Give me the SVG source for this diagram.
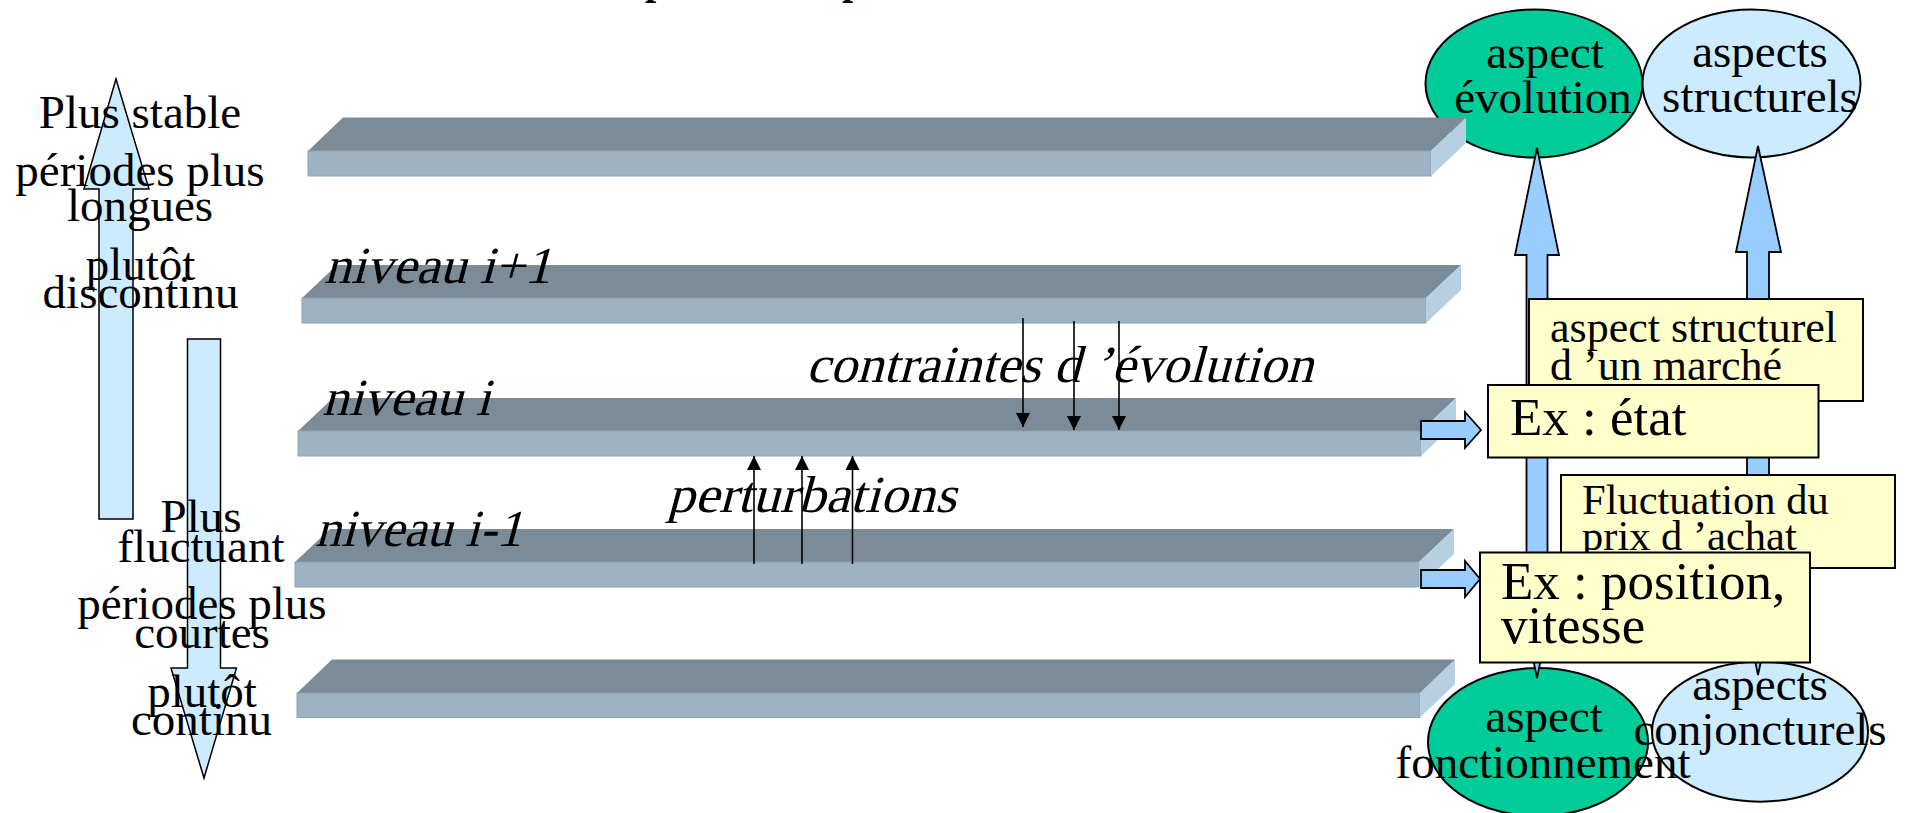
<svg xmlns="http://www.w3.org/2000/svg" width="1908" height="813" viewBox="0 0 1908 813">
<defs>
<style>
.top{fill:#7B8B97}
.front{fill:#9DB3C3;stroke:#8FA4B4;stroke-width:1}
.side{fill:#B6CFE1}
.lbl{font-family:"Liberation Serif",serif;font-size:47px;fill:#000}
.it{font-family:"Liberation Serif",serif;font-size:52px;fill:#000}
.mid{text-anchor:middle}
.barrow{fill:#CCEBFF;stroke:#000;stroke-width:1.5}
.rarrow{fill:#99CCFF;stroke:#000;stroke-width:1.8}
.box{fill:#FFFFCC;stroke:#000;stroke-width:2}
.thin{stroke:#000;stroke-width:1.6;fill:none}
</style>
<marker id="ah" viewBox="0 0 10 10" refX="10" refY="5" markerWidth="14" markerHeight="15" markerUnits="userSpaceOnUse" orient="auto">
<path d="M0,0 L10,5 L0,10 z" fill="#000"/>
</marker>
</defs>
<rect width="1908" height="813" fill="#fff"/>

<g id="title">
<text x="645" y="-6.5" style="font-family:'Liberation Serif',serif;font-size:40px;font-weight:bold">p</text>
<text x="842" y="-6.5" style="font-family:'Liberation Serif',serif;font-size:40px;font-weight:bold">p</text>
</g>

<g id="ellipse-evolution">
<ellipse cx="1534" cy="83.5" rx="108.5" ry="74" fill="#00CC99" stroke="#000" stroke-width="2"/>
<text class="lbl mid" x="1545" y="68">aspect</text>
<text class="lbl mid" x="1543" y="113">évolution</text>
</g>
<g id="ellipse-structurels">
<ellipse cx="1751.5" cy="83.5" rx="109" ry="74" fill="#CCEBFF" stroke="#000" stroke-width="2"/>
<text class="lbl mid" x="1760" y="67">aspects</text>
<text class="lbl mid" x="1760" y="112">structurels</text>
</g>
<g id="ellipse-fonctionnement">
<ellipse cx="1538" cy="742" rx="110" ry="74" fill="#00CC99" stroke="#000" stroke-width="2"/>
</g>
<g id="ellipse-conjoncturels">
<ellipse cx="1760" cy="731.7" rx="108" ry="70" fill="#CCEBFF" stroke="#000" stroke-width="2"/>
</g>

<g id="slab1">
<polygon class="top" points="308,151 343,117.5 1466,117.5 1431,151"/>
<rect class="front" x="308" y="151" width="1123" height="25"/>
<polygon class="side" points="1431,151 1466,117.5 1466,143 1431,176"/>
</g>
<g id="slab2">
<polygon class="top" points="302,298 337,265 1461,265 1426,298"/>
<rect class="front" x="302" y="298" width="1124" height="25"/>
<polygon class="side" points="1426,298 1461,265 1461,290 1426,323"/>
</g>
<g id="slab3">
<polygon class="top" points="298,431 333,398 1456,398 1421,431"/>
<rect class="front" x="298" y="431" width="1123" height="25"/>
<polygon class="side" points="1421,431 1456,398 1456,423 1421,456"/>
</g>
<g id="slab4">
<polygon class="top" points="295,562 330,529 1454,529 1419,562"/>
<rect class="front" x="295" y="562" width="1124" height="25"/>
<polygon class="side" points="1419,562 1454,529 1454,554 1419,587"/>
</g>
<g id="slab5">
<polygon class="top" points="297,693 332,659.5 1455,659.5 1420,693"/>
<rect class="front" x="297" y="693" width="1123" height="24.5"/>
<polygon class="side" points="1420,693 1455,659.5 1455,684 1420,717.5"/>
</g>

<g id="arrow-stable">
<polygon class="barrow" points="116,79 149,189 133,189 133,519 99,519 99,189 84,189"/>
</g>
<g id="arrow-fluctuant">
<polygon class="barrow" points="187.5,339 220.5,339 220.5,668 236.5,668 204,778 171,668 187.5,668"/>
</g>

<g id="text-stable">
<text class="lbl mid" x="140" y="127.7">Plus stable</text>
<text class="lbl mid" x="140" y="185.7">périodes plus</text>
<text class="lbl mid" x="140" y="221">longues</text>
<text class="lbl mid" x="140.5" y="280">plutôt</text>
<text class="lbl mid" x="140.5" y="308.3">discontinu</text>
</g>
<g id="text-fluctuant">
<text class="lbl mid" x="201" y="531.7">Plus</text>
<text class="lbl mid" x="201" y="561.7">fluctuant</text>
<text class="lbl mid" x="202" y="619.3">périodes plus</text>
<text class="lbl mid" x="202" y="648.3">courtes</text>
<text class="lbl mid" x="202" y="706.7">plutôt</text>
<text class="lbl mid" x="201.5" y="735">continu</text>
</g>

<g id="level-labels">
<text class="it" transform="translate(324,282.7) skewX(-15)" textLength="227" lengthAdjust="spacingAndGlyphs">niveau i+1</text>
<text class="it" transform="translate(322,415) skewX(-15)" textLength="168" lengthAdjust="spacingAndGlyphs">niveau i</text>
<text class="it" transform="translate(315,546) skewX(-15)" textLength="207" lengthAdjust="spacingAndGlyphs">niveau i-1</text>
</g>

<g id="connectors">
<line class="thin" x1="1023" y1="318" x2="1023" y2="427" marker-end="url(#ah)"/>
<line class="thin" x1="1074" y1="321" x2="1074" y2="430" marker-end="url(#ah)"/>
<line class="thin" x1="1119" y1="321" x2="1119" y2="430" marker-end="url(#ah)"/>
<line class="thin" x1="754" y1="564" x2="754" y2="456" marker-end="url(#ah)"/>
<line class="thin" x1="802" y1="564" x2="802" y2="456" marker-end="url(#ah)"/>
<line class="thin" x1="852.5" y1="564" x2="852.5" y2="456" marker-end="url(#ah)"/>
<polygon class="rarrow" points="1537,148 1559,255 1547.5,255 1547.5,571 1559,571 1537,678 1515,571 1526.5,571 1526.5,255 1515,255"/>
<polygon class="rarrow" points="1758,146 1781,252 1769,252 1769,569 1781,569 1758,675 1736,569 1747,569 1747,252 1736,252"/>
<polygon class="rarrow" points="1421,421 1465,421 1465,412 1481,430 1465,448 1465,439 1421,439"/>
<polygon class="rarrow" points="1421,570 1465,570 1465,561 1480,579 1465,597 1465,588 1421,588"/>
</g>

<g id="flow-labels">
<text class="it" transform="translate(806,382) skewX(-15)" textLength="507" lengthAdjust="spacingAndGlyphs">contraintes d ’évolution</text>
<text class="it" transform="translate(667,512) skewX(-15)" textLength="289" lengthAdjust="spacingAndGlyphs">perturbations</text>
</g>

<g id="ellipse-labels-bottom">
<text class="lbl mid" x="1544" y="732">aspect</text>
<text class="lbl mid" x="1543" y="778">fonctionnement</text>
<text class="lbl mid" x="1760" y="700">aspects</text>
<text class="lbl mid" x="1760" y="745">conjoncturels</text>
</g>

<g id="box-structurel">
<rect class="box" x="1529" y="299" width="334" height="102"/>
<text class="lbl" x="1550" y="341.7" style="font-size:44px">aspect structurel</text>
<text class="lbl" x="1550" y="380" style="font-size:44px">d ’un marché</text>
</g>
<g id="box-etat">
<rect class="box" x="1488" y="385" width="330.5" height="72.5"/>
<text class="lbl" x="1510" y="435" style="font-size:53px">Ex : état</text>
</g>
<g id="box-fluctuation">
<rect class="box" x="1561" y="475" width="334" height="93"/>
<text class="lbl" x="1582" y="514" style="font-size:42.5px">Fluctuation du</text>
<text class="lbl" x="1582" y="550" style="font-size:42.5px">prix d ’achat</text>
</g>
<g id="box-position">
<rect class="box" x="1480" y="552.5" width="330" height="110"/>
<text class="lbl" x="1501" y="599" style="font-size:53px">Ex : position,</text>
<text class="lbl" x="1501" y="643" style="font-size:53px">vitesse</text>
</g>
</svg>
